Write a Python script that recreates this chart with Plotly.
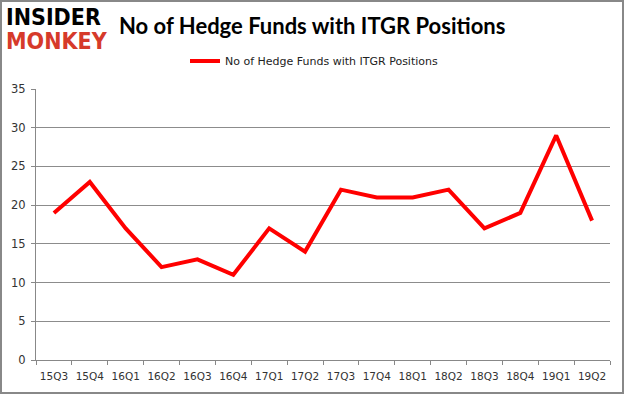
import plotly.graph_objects as go

quarters = ["15Q3","15Q4","16Q1","16Q2","16Q3","16Q4","17Q1","17Q2",
            "17Q3","17Q4","18Q1","18Q2","18Q3","18Q4","19Q1","19Q2"]
funds = [19, 23, 17, 12, 13, 11, 17, 14, 22, 21, 21, 22, 17, 19, 29, 18]
y_ticks = [0, 5, 10, 15, 20, 25, 30, 35]

L, R, T, B = 36, 15, 89, 35
W, H = 625, 395
PW, PH = W - L - R, H - T - B

def px(x):
    return (x - L) / PW

def py(y):
    return (H - B - y) / PH

fig = go.Figure()
fig.add_trace(go.Scatter(
    x=quarters, y=funds, mode="lines",
    name="No of Hedge Funds with ITGR Positions",
    line=dict(color="#ff0000", width=4),
))

fig.update_layout(
    width=W, height=H,
    margin=dict(l=L, r=R, t=T, b=B, autoexpand=False),
    paper_bgcolor="white", plot_bgcolor="white",
    font=dict(family="DejaVu Sans", size=11, color="#333333"),
    showlegend=True,
    legend=dict(orientation="h", x=px(314), xanchor="center", y=py(61), yanchor="middle",
                font=dict(family="DejaVu Sans", size=11, color="#222222"),
                itemwidth=30, bgcolor="rgba(0,0,0,0)"),
    xaxis=dict(type="category", range=[-0.5, 15.5], tickson="boundaries",
               ticks="outside", ticklen=4, tickcolor="#888888", tickangle=0,
               ticklabelstandoff=6,
               showline=True, linecolor="#888888", linewidth=1, automargin=False,
               showgrid=False, tickfont=dict(size=10.5, color="#333333")),
    yaxis=dict(range=[0, 35], tickvals=y_ticks, ticks="outside", ticklen=4,
               ticklabelstandoff=3,
               tickcolor="#888888", showline=True, linecolor="#888888", automargin=False,
               gridcolor="#8c8c8c", gridwidth=1, zeroline=False,
               tickfont=dict(size=11.5, color="#333333")),
)

# Title
fig.add_annotation(text="<b>No of Hedge Funds with ITGR Positions</b>", xref="paper", yref="paper",
                   x=px(117), y=py(25), xanchor="left", yanchor="middle", showarrow=False,
                   font=dict(family="Lato", size=22, color="black"))

# Logo
fig.add_annotation(text="<b>INSIDER</b>", xref="paper", yref="paper",
                   x=px(4), y=py(17), xanchor="left", yanchor="middle",
                   showarrow=False, font=dict(family="DejaVu Sans Condensed", size=23, color="black"))
fig.add_annotation(text="<b>MONKEY</b>", xref="paper", yref="paper",
                   x=px(4), y=py(41), xanchor="left", yanchor="middle",
                   showarrow=False, font=dict(family="DejaVu Sans Condensed", size=23, color="#d63a2a"))

# Border
fig.add_shape(type="rect", xref="paper", yref="paper",
              x0=px(1), x1=px(623), y0=py(393), y1=py(1),
              line=dict(color="#888888", width=2))

fig.write_html("out.html", config={"displayModeBar": False},
               post_script="document.body.style.margin='0';document.body.style.overflow='hidden';")
